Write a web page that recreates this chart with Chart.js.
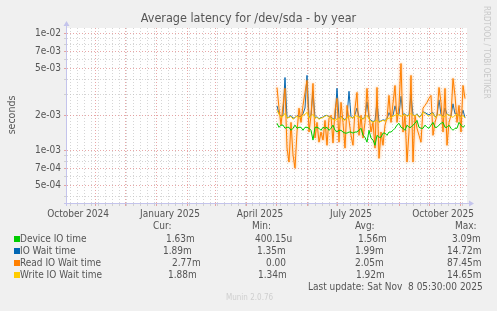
<!DOCTYPE html>
<html>
<head>
<meta charset="utf-8">
<script src="https://cdn.jsdelivr.net/npm/chart.js@4.4.1/dist/chart.umd.min.js"></script>
<style>
    body { margin: 0; background: #f0f0f0; }
    #wrap { position: relative; width: 497px; height: 311px; background: #f0f0f0; overflow: hidden; }
    #wrap canvas { position: absolute; left: 0; top: 0; }
    .txt { position: absolute; font-family: "DejaVu Sans Condensed", "DejaVu Sans", sans-serif; font-size: 10px; color: #555; white-space: pre; line-height: 12px; }
    .sq { position: absolute; width: 6px; height: 6px; }
</style>
</head>
<body>
<div id="wrap">
    <canvas id="latencyChart" width="497" height="311"></canvas>
</div>
<script>
// values in milliseconds, one sample every 2 days from 2 May 2025
const firstSample = [2025, 4, 2];
const sampleStep = 2;

const deviceIoMs = [
    1.70, 1.57, 1.64, 1.64, 1.54, 1.57, 1.57, 1.48, 1.54, 1.64,
    1.54, 1.57, 1.57, 1.48, 1.57, 1.57, 1.54, 1.48, 1.22, 1.57,
    1.57, 1.54, 1.48, 1.57, 1.54, 1.57, 1.48, 1.54, 1.64, 1.48,
    1.43, 1.48, 1.48, 1.43, 1.40, 1.40, 1.43, 1.43, 1.40, 1.43,
    1.43, 1.48, 1.54, 1.34, 1.29, 1.17, 1.48, 1.27, 1.22, 1.10,
    1.34, 1.29, 1.29, 1.40, 1.40, 1.34, 1.43, 1.43, 1.48, 1.54,
    1.64, 1.70, 1.57, 1.54, 1.48, 1.64, 1.57, 1.57, 1.64, 1.70,
    1.80, 1.57, 1.54, 1.54, 1.64, 1.57, 1.54, 1.64, 1.73, 1.57,
    1.57, 1.64, 1.70, 1.73, 1.57, 1.57, 1.64, 1.54, 1.48, 1.54,
    1.54, 1.73, 1.64, 1.57, 1.63
];
const ioWaitMs = [
    2.40, 2.05, 1.95, 2.00, 4.20, 1.90, 1.92, 1.98, 1.88, 1.90,
    1.98, 1.95, 1.95, 2.05, 2.30, 4.38, 1.90, 1.98, 3.20, 1.90,
    1.93, 1.86, 1.90, 1.92, 1.98, 1.99, 1.93, 1.92, 1.86, 1.85,
    3.39, 1.88, 1.95, 1.88, 1.82, 1.92, 3.20, 1.93, 1.88, 2.02,
    2.30, 1.93, 1.90, 1.86, 1.93, 2.60, 1.88, 1.80, 1.76, 1.78,
    2.60, 1.75, 1.78, 1.82, 1.80, 1.86, 2.10, 1.93, 1.98, 2.40,
    2.05, 2.02, 2.90, 2.02, 2.05, 1.97, 2.00, 3.00, 2.00, 1.97,
    2.05, 1.93, 1.97, 2.13, 2.10, 2.05, 2.00, 2.08, 2.10, 1.93,
    1.97, 2.70, 2.03, 1.95, 2.30, 2.03, 2.00, 1.97, 2.50, 2.05,
    2.05, 1.98, 1.93, 2.20, 1.89
];
const readWaitMs = [
    3.45, 2.29, 1.64, 2.42, 3.39, 1.04, 0.79, 1.73, 0.91, 0.70,
    1.43, 2.29, 1.73, 2.42, 3.13, 3.97, 1.43, 1.99, 3.74, 1.27,
    1.73, 1.17, 1.43, 1.22, 1.80, 1.10, 1.88, 1.99, 1.15, 2.20,
    2.78, 1.17, 2.57, 1.73, 1.04, 2.42, 1.80, 1.34, 1.10, 2.29,
    3.13, 1.34, 1.99, 1.27, 1.73, 3.39, 1.99, 1.43, 1.73, 1.04,
    3.45, 0.85, 1.43, 1.10, 1.64, 1.88, 2.95, 1.73, 2.52, 3.59,
    1.73, 2.42, 5.54, 1.43, 1.99, 0.79, 1.43, 4.38, 0.79, 1.99,
    1.54, 1.34, 1.17, 2.29, 2.42, 2.57, 2.78, 2.95, 1.34, 1.73,
    1.99, 3.45, 2.57, 1.43, 3.39, 1.10, 1.73, 1.99, 4.12, 2.95,
    1.73, 2.42, 1.43, 3.59, 2.77
];
const writeWaitMs = [
    2.20, 2.03, 1.91, 1.95, 2.07, 1.88, 1.91, 1.95, 1.84, 1.91,
    1.95, 1.88, 1.91, 1.99, 2.03, 2.11, 1.88, 1.95, 2.03, 1.88,
    1.91, 1.84, 1.88, 1.91, 1.95, 1.99, 1.91, 1.88, 1.84, 1.80,
    1.84, 1.88, 1.91, 1.84, 1.80, 1.88, 1.95, 1.91, 1.88, 1.99,
    1.95, 1.91, 1.88, 1.84, 1.91, 1.99, 1.84, 1.77, 1.73, 1.77,
    1.80, 1.73, 1.77, 1.80, 1.77, 1.84, 1.88, 1.91, 1.95, 1.99,
    2.03, 1.99, 1.95, 1.99, 2.03, 1.95, 1.99, 2.07, 1.99, 1.95,
    2.03, 1.91, 1.95, 2.11, 2.07, 1.99, 1.95, 2.03, 2.07, 1.91,
    1.95, 2.03, 1.99, 1.91, 1.95, 2.03, 1.99, 1.95, 1.91, 1.99,
    2.03, 1.95, 1.91, 1.99, 1.88
];

const seriesNames = ['Device IO time', 'IO Wait time', 'Read IO Wait time', 'Write IO Wait time'];
const seriesColors = ['#00cc00', '#0066b3', '#ff8000', '#ffcc00'];
const curValues = ['1.63m', '1.89m', '2.77m', '1.88m'];
const minValues = ['400.15u', '1.35m', '0.00', '1.34m'];
const avgValues = ['1.56m', '1.99m', '2.05m', '1.92m'];
const maxValues = ['3.09m', '14.72m', '87.45m', '14.65m'];

const monthLabels = [
    [2024, 9, 'October 2024'],
    [2025, 0, 'January 2025'],
    [2025, 3, 'April 2025'],
    [2025, 6, 'July 2025'],
    [2025, 9, 'October 2025']
];
const yMajor = [5e-4, 7e-4, 1e-3, 2e-3, 5e-3, 7e-3, 1e-2];
const yMinor = [4e-4, 6e-4, 8e-4, 9e-4, 3e-3, 4e-3, 6e-3, 8e-3, 9e-3];

// x axis runs in days from 4 Oct 2024 to 8 Nov 2025
const dayMs = 86400000;
const origin = Date.UTC(2024, 9, 4);
function dayOf(y, m, d) { return (Date.UTC(y, m, d) - origin) / dayMs; }
const lastDay = dayOf(2025, 10, 8);
const sampleStart = dayOf(firstSample[0], firstSample[1], firstSample[2]);

function toPoints(values) {
    return values.map((v, i) => ({ x: sampleStart + i * sampleStep, y: v / 1000 }));
}

// grid: red at month starts, grey weekly, labels mid month
const xTickKind = new Map();
for (let d = 3; d <= lastDay; d += 7) xTickKind.set(d, 'minor');
for (let y = 2024, m = 10; y < 2026; m++) {
    if (m > 11) { m = 0; y++; }
    const d = dayOf(y, m, 1);
    if (d > lastDay) break;
    xTickKind.set(d, 'major');
}
const xLabelAt = new Map();
monthLabels.forEach(([y, m, text]) => {
    const d = dayOf(y, m, 15);
    xLabelAt.set(d, text);
    if (!xTickKind.has(d)) xTickKind.set(d, 'label');
});

function yLabel(v) {
    const e = Math.floor(Math.log10(v) + 1e-9);
    const mant = Math.round(v / Math.pow(10, e));
    const sign = e < 0 ? '-' : '+';
    return mant + 'e' + sign + String(Math.abs(e)).padStart(2, '0');
}

const redGrid = 'rgba(222,130,130,0.7)';
const greyGrid = 'rgba(190,190,190,0.65)';
const axisColor = '#c4c4ec';

const plotBackground = {
    id: 'plotBackground',
    beforeDraw(chart) {
        const a = chart.chartArea, ctx = chart.ctx;
        ctx.save();
        ctx.fillStyle = '#ffffff';
        ctx.fillRect(a.left, a.top, a.right - a.left, a.bottom - a.top);
        ctx.restore();
    }
};

// soft halo on the read series, like the blended spikes in the original
const readHalo = {
    id: 'readHalo',
    beforeDatasetDraw(chart, args) {
        if (args.index !== 2) return;
        const ctx = chart.ctx;
        ctx.save();
        ctx.shadowColor = 'rgba(255,150,50,0.85)';
        ctx.shadowBlur = 3;
    },
    afterDatasetDraw(chart, args) {
        if (args.index !== 2) return;
        chart.ctx.restore();
    }
};

const axisArrows = {
    id: 'axisArrows',
    afterDatasetsDraw(chart) {
        const a = chart.chartArea, ctx = chart.ctx;
        ctx.save();
        ctx.strokeStyle = axisColor;
        ctx.fillStyle = axisColor;
        ctx.lineWidth = 1;
        ctx.beginPath();
        ctx.moveTo(a.left - 0.5, a.bottom + 3);
        ctx.lineTo(a.left - 0.5, a.top - 3);
        ctx.moveTo(a.left - 3, a.bottom + 0.5);
        ctx.lineTo(a.right + 3, a.bottom + 0.5);
        ctx.stroke();
        ctx.beginPath();
        ctx.moveTo(a.left - 3.5, a.top - 2);
        ctx.lineTo(a.left + 2.5, a.top - 2);
        ctx.lineTo(a.left - 0.5, a.top - 7);
        ctx.closePath();
        ctx.fill();
        ctx.beginPath();
        ctx.moveTo(a.right + 2, a.bottom - 2.5);
        ctx.lineTo(a.right + 2, a.bottom + 3.5);
        ctx.lineTo(a.right + 7, a.bottom + 0.5);
        ctx.closePath();
        ctx.fill();
        ctx.restore();
    }
};

const tickFont = { family: "'DejaVu Sans Condensed', 'DejaVu Sans', sans-serif", size: 10 };

new Chart(document.getElementById('latencyChart'), {
    type: 'line',
    data: {
        datasets: [
            { label: seriesNames[0], data: toPoints(deviceIoMs), borderColor: seriesColors[0], order: 1 },
            { label: seriesNames[1], data: toPoints(ioWaitMs), borderColor: seriesColors[1], order: 3 },
            { label: seriesNames[2], data: toPoints(readWaitMs), borderColor: seriesColors[2], order: 2 },
            { label: seriesNames[3], data: toPoints(writeWaitMs), borderColor: seriesColors[3], order: 0 }
        ]
    },
    options: {
        responsive: false,
        animation: false,
        events: [],
        elements: {
            line: { borderWidth: 1, tension: 0 },
            point: { radius: 0 }
        },
        layout: { padding: { left: 0, top: 28, right: 30, bottom: 0 } },
        plugins: {
            legend: { display: false },
            tooltip: { enabled: false }
        },
        scales: {
            x: {
                type: 'linear',
                min: 0,
                max: lastDay,
                afterBuildTicks(scale) {
                    scale.ticks = [...xTickKind.keys()].sort((p, q) => p - q).map(v => ({ value: v }));
                },
                afterFit(scale) { scale.height = 108; },
                grid: {
                    color(ctx) {
                        const k = ctx.tick && xTickKind.get(ctx.tick.value);
                        if (k === 'major') return redGrid;
                        if (k === 'minor') return greyGrid;
                        return 'rgba(0,0,0,0)';
                    },
                    lineWidth: 1,
                    tickLength: 3
                },
                border: { display: false, dash: [1, 2] },
                ticks: {
                    autoSkip: false,
                    maxRotation: 0,
                    minRotation: 0,
                    padding: 2,
                    color: '#555',
                    font: tickFont,
                    callback(v) { return xLabelAt.get(v) || ''; }
                }
            },
            y: {
                type: 'logarithmic',
                min: 3.52e-4,
                max: 1.117e-2,
                afterBuildTicks(scale) {
                    scale.ticks = [...yMinor, ...yMajor].sort((p, q) => p - q).map(v => ({ value: v }));
                },
                afterFit(scale) { scale.width = 67; },
                grid: {
                    color(ctx) {
                        if (!ctx.tick) return greyGrid;
                        return yMajor.some(v => Math.abs(v - ctx.tick.value) < v * 1e-6) ? redGrid : greyGrid;
                    },
                    lineWidth: 1,
                    tickLength: 3
                },
                border: { display: false, dash: [1, 2] },
                ticks: {
                    autoSkip: false,
                    padding: 3,
                    color: '#555',
                    font: tickFont,
                    callback(v) {
                        return yMajor.some(m => Math.abs(m - v) < m * 1e-6) ? yLabel(v) : '';
                    }
                }
            }
        }
    },
    plugins: [plotBackground, readHalo, axisArrows]
});

// texts around the plot
const wrap = document.getElementById('wrap');
function addText(text, left, top, extra) {
    const el = document.createElement('div');
    el.className = 'txt';
    el.textContent = text;
    el.style.left = left + 'px';
    el.style.top = top + 'px';
    if (extra) Object.assign(el.style, extra);
    wrap.appendChild(el);
    return el;
}

addText('Average latency for /dev/sda - by year', 0, 12, { width: '497px', textAlign: 'center', fontSize: '12.5px' });
addText('seconds', -14, 109, { transform: 'rotate(-90deg)', width: '50px', textAlign: 'center', fontSize: '10.5px' });
addText('RRDTOOL / TOBI OETIKER', 440, 46, { transform: 'rotate(90deg)', width: '92px', textAlign: 'center', fontSize: '8px', color: '#c8c8c8' });

addText('Cur:', 153, 220);
addText('Min:', 252, 220);
addText('Avg:', 355, 220);
addText('Max:', 455, 220);

const rowTop = [233, 245, 257, 269];
const curLeft = [166, 163, 172, 168];
const minLeft = [255, 257, 266, 258];
const avgLeft = [358, 355, 355, 356];
const maxLeft = [452, 447, 447, 447];
seriesNames.forEach((name, i) => {
    const sq = document.createElement('div');
    sq.className = 'sq';
    sq.style.left = '14px';
    sq.style.top = (rowTop[i] + 3) + 'px';
    sq.style.background = seriesColors[i];
    wrap.appendChild(sq);
    addText(name, 20, rowTop[i]);
    addText(curValues[i], curLeft[i], rowTop[i]);
    addText(minValues[i], minLeft[i], rowTop[i]);
    addText(avgValues[i], avgLeft[i], rowTop[i]);
    addText(maxValues[i], maxLeft[i], rowTop[i]);
});
addText('Last update: Sat Nov  8 05:30:00 2025', 308, 281);
addText('Munin 2.0.76', 226, 292, { color: '#cfcfcf', fontSize: '8px' });
</script>
</body>
</html>
